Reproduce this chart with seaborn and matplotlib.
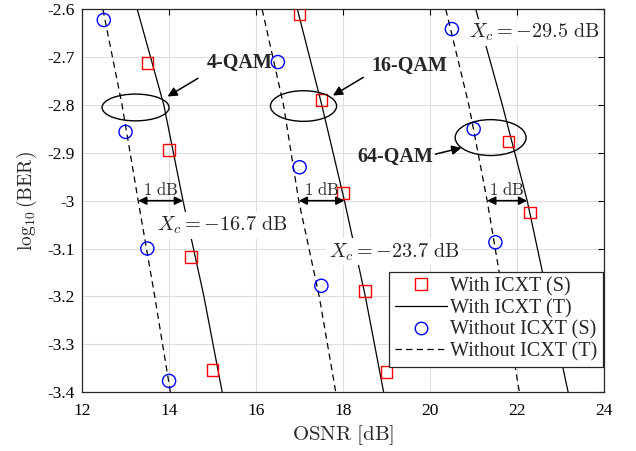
import pandas as pd
import seaborn as sns
import matplotlib.pyplot as plt
from matplotlib.lines import Line2D
from matplotlib.patches import Ellipse

# Simulated points (S)
with_s_x = [13.5, 14.0, 14.5, 15.0, 17.0, 17.5, 18.0, 18.5, 19.0, 21.8, 22.3]
with_s_y = [-2.712, -2.894, -3.118, -3.354, -2.609, -2.790, -2.984, -3.189, -3.358, -2.876, -3.025]
without_s_x = [12.5, 13.0, 13.5, 14.0, 16.5, 17.0, 17.5, 20.5, 21.0, 21.5]
without_s_y = [-2.622, -2.856, -3.100, -3.377, -2.710, -2.930, -3.178, -2.641, -2.850, -3.087]

# Theory curves (T), OSNR read at given log10(BER) levels
ber_levels = [-2.6, -2.8, -3.0, -3.2, -3.4]
ber_levels_64 = [-2.6, -2.8, -3.0, -3.4]
with_t_4 = [13.27, 13.88, 14.32, 14.80, 15.22]
with_t_16 = [16.95, 17.51, 18.03, 18.51, 18.93]
with_t_64 = [21.05, 21.66, 22.23, 23.17]
without_t_4 = [12.48, 12.92, 13.29, 13.67, 14.03]
without_t_16 = [16.14, 16.63, 16.98, 17.45, 17.83]
without_t_64 = [20.36, 20.89, 21.31, 22.05]

xticks = [12, 14, 16, 18, 20, 22, 24]
yticks = [-2.6, -2.7, -2.8, -2.9, -3.0, -3.1, -3.2, -3.3, -3.4]
ytick_labels = ["-2.6", "-2.7", "-2.8", "-2.9", "-3", "-3.1", "-3.2", "-3.3", "-3.4"]

sns.set_style("whitegrid")
plt.rcParams["font.family"] = ["Liberation Serif", "DejaVu Serif"]
plt.rcParams["mathtext.fontset"] = "cm"

fig = plt.figure(figsize=(6.36, 4.51), dpi=100)
ax = fig.add_axes([0.129, 0.131, 0.821, 0.848])

# theory lines
for xs, ys in [(with_t_4, ber_levels), (with_t_16, ber_levels), (with_t_64, ber_levels_64)]:
    sns.lineplot(x=xs, y=ys, sort=False, estimator=None, color="black", lw=0.9, ax=ax, zorder=2)
for xs, ys in [(without_t_4, ber_levels), (without_t_16, ber_levels), (without_t_64, ber_levels_64)]:
    sns.lineplot(x=xs, y=ys, sort=False, estimator=None, color="black", lw=0.9,
                 ax=ax, zorder=2).lines[-1].set_dashes((5, 3.5))

# simulated markers
sns.scatterplot(x=with_s_x, y=with_s_y, marker="s", s=70, facecolor="none",
                edgecolor="red", linewidth=1.0, ax=ax, zorder=3)
sns.scatterplot(x=without_s_x, y=without_s_y, marker="o", s=90, facecolor="none",
                edgecolor="blue", linewidth=1.0, ax=ax, zorder=3)

# ellipses and labels
for (cx, cy, w, h) in [(13.23, -2.805, 1.54, 0.056), (17.09, -2.802, 1.52, 0.064),
                       (21.39, -2.868, 1.63, 0.075)]:
    ax.add_patch(Ellipse((cx, cy), w, h, fill=False, ec="black", lw=1.0, zorder=4))

arrow_kw = dict(arrowstyle="-|>", color="black", lw=1.1, mutation_scale=14)
ax.annotate("", xy=(13.91, -2.785), xytext=(14.72, -2.741), arrowprops=arrow_kw)
ax.annotate("", xy=(17.71, -2.783), xytext=(18.52, -2.739), arrowprops=arrow_kw)
ax.annotate("", xy=(20.78, -2.888), xytext=(20.06, -2.904), arrowprops=arrow_kw)
ax.text(14.86, -2.712, "4-QAM", fontsize=14.5, fontweight="bold", va="center", ha="left")
ax.text(18.66, -2.718, "16-QAM", fontsize=14.5, fontweight="bold", va="center", ha="left")
ax.text(20.08, -2.909, "64-QAM", fontsize=14.5, fontweight="bold", va="center", ha="right")

# 1 dB markers
dbl_kw = dict(arrowstyle="<|-|>", color="black", lw=1.2, mutation_scale=12,
              shrinkA=0, shrinkB=0)
for x0, x1 in [(13.29, 14.32), (16.98, 18.03), (21.31, 22.23)]:
    ax.annotate("", xy=(x1, -3.0), xytext=(x0, -3.0), arrowprops=dbl_kw, zorder=5)
    ax.text((x0 + x1) / 2, -2.978, r"$1\ \mathrm{dB}$", fontsize=12, ha="center", va="center",
            zorder=5)

box = dict(facecolor="white", edgecolor="none", pad=2)
ax.text(13.72, -3.051, r"$X_c = -16.7\ \mathrm{dB}$", fontsize=14.5, va="center", bbox=box, zorder=6)
ax.text(17.67, -3.107, r"$X_c = -23.7\ \mathrm{dB}$", fontsize=14.5, va="center", bbox=box, zorder=6)
ax.text(20.90, -2.648, r"$X_c = -29.5\ \mathrm{dB}$", fontsize=14.5, va="center", bbox=box, zorder=6)

ax.set_xlim(12, 24)
ax.set_ylim(-3.4, -2.6)
ax.set_xticks(xticks)
ax.set_yticks(yticks)
ax.set_yticklabels(ytick_labels)
ax.tick_params(direction="in", length=4, width=0.8, top=True, right=True,
               labelsize=12.5, colors="black", pad=5)
ax.tick_params(axis="x", pad=8)
ax.grid(True, color="0.87", lw=0.8)
for sp in ax.spines.values():
    sp.set_color("0.15")
    sp.set_linewidth(0.9)
ax.set_xlabel(r"$\mathrm{OSNR\ [dB]}$", fontsize=15, labelpad=3)
ax.set_ylabel(r"$\log_{10}(\mathrm{BER})$", fontsize=14, labelpad=6)

handles = [
    Line2D([], [], ls="none", marker="s", mfc="none", mec="red", ms=8),
    Line2D([], [], color="black", lw=0.9),
    Line2D([], [], ls="none", marker="o", mfc="none", mec="blue", ms=9),
    Line2D([], [], color="black", lw=0.9, dashes=(5, 3.5)),
]
labels = ["With ICXT (S)", "With ICXT (T)", "Without ICXT (S)", "Without ICXT (T)"]
leg = ax.legend(handles, labels, loc="lower right", bbox_to_anchor=(0.998, 0.065),
                borderaxespad=0, fontsize=14.5, fancybox=False, framealpha=1,
                edgecolor="0.15", handlelength=2.6, handletextpad=0.15,
                labelspacing=0.12, borderpad=0.28)
leg.get_frame().set_linewidth(0.9)
leg.set_zorder(7)

fig.savefig("out.png", dpi=100)
